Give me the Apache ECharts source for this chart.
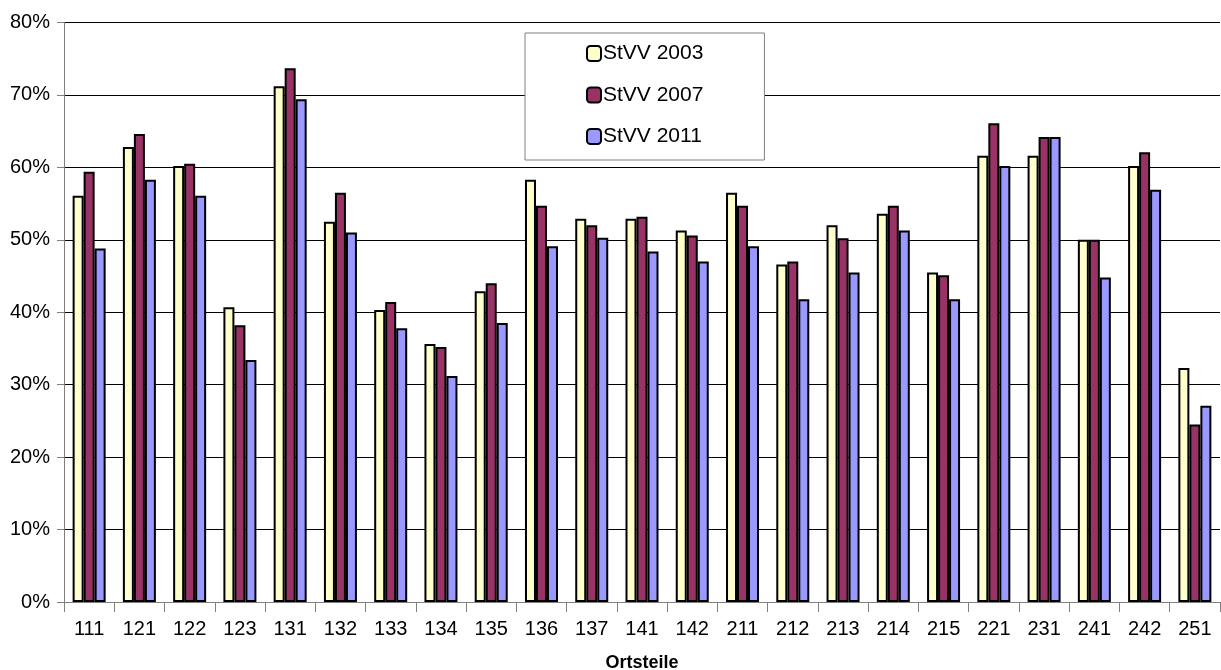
<!DOCTYPE html>
<html>
<head>
<meta charset="utf-8">
<script src="https://cdn.jsdelivr.net/npm/echarts@6/dist/echarts.min.js"></script>
<style>
html,body{margin:0;padding:0;background:#fff;}
#chart{width:1221px;height:670px;}
</style>
</head>
<body>
<div id="chart"></div>
<script>
const categories = ['111','121','122','123','131','132','133','134','135','136','137','141','142','211','212','213','214','215','221','231','241','242','251'];
const seriesNames = ['StVV 2003','StVV 2007','StVV 2011'];
const values2003 = [56.1,62.8,60.2,40.7,71.2,52.5,40.3,35.6,42.9,58.3,52.9,52.9,51.3,56.5,46.6,52.0,53.6,45.5,61.6,61.6,50.0,60.2,32.3];
const values2007 = [59.4,64.6,60.5,38.2,73.7,56.5,41.4,35.2,44.0,54.7,52.0,53.2,50.6,54.7,47.0,50.2,54.7,45.1,66.1,64.2,50.0,62.1,24.5];
const values2011 = [48.8,58.3,56.1,33.4,69.4,51.0,37.8,31.2,38.5,49.1,50.3,48.4,47.0,49.1,41.8,45.5,51.3,41.8,60.2,64.2,44.8,56.9,27.1];
const yTicks = {min:0, max:80, interval:10};
const colors = ['#FFFFCC','#993366','#9999FF'];

const chart = echarts.init(document.getElementById('chart'), null, {renderer:'canvas'});
const font = 'Arial, "Liberation Sans", sans-serif';
const allValues = [values2003, values2007, values2011];
chart.setOption({
  animation:false,
  backgroundColor:'#fff',
  grid:{left:64, right:1, top:22.5, bottom:68, containLabel:false, outerBoundsMode:'none'},
  legend:{
    orient:'vertical',
    left:525, top:33,
    padding:[10,61,13,61],
    itemGap:20.5,
    itemWidth:14, itemHeight:15,
    backgroundColor:'#fff',
    borderColor:'#808080', borderWidth:1,
    textStyle:{fontFamily:font, fontSize:21, color:'#000', padding:[0,0,0,-3]},
    itemStyle:{borderColor:'#000', borderWidth:2},
    data:seriesNames
  },
  xAxis:{
    type:'category',
    data:categories,
    name:'Ortsteile',
    nameLocation:'middle',
    nameGap:52,
    nameTextStyle:{fontFamily:font, fontSize:18, fontWeight:'bold', color:'#000'},
    axisLine:{lineStyle:{color:'#808080', width:1}},
    axisTick:{show:true, alignWithLabel:false, length:10, lineStyle:{color:'#808080'}},
    axisLabel:{fontFamily:font, fontSize:20, color:'#000', margin:17, interval:0}
  },
  yAxis:{
    type:'value',
    min:yTicks.min, max:yTicks.max, interval:yTicks.interval,
    axisLine:{show:true, lineStyle:{color:'#808080', width:1}},
    axisTick:{show:true, length:7, lineStyle:{color:'#808080'}},
    axisLabel:{fontFamily:font, fontSize:20, color:'#000', margin:14, formatter:'{value}%'},
    splitLine:{show:true, lineStyle:{color:'#000', width:1}}
  },
  series: seriesNames.map((n,i)=>({
    name:n,
    type:'bar',
    data:allValues[i],
    barWidth:11,
    barGap:'0%',
    itemStyle:{color:colors[i], borderColor:'#000', borderWidth:2}
  }))
});
</script>
</body>
</html>
